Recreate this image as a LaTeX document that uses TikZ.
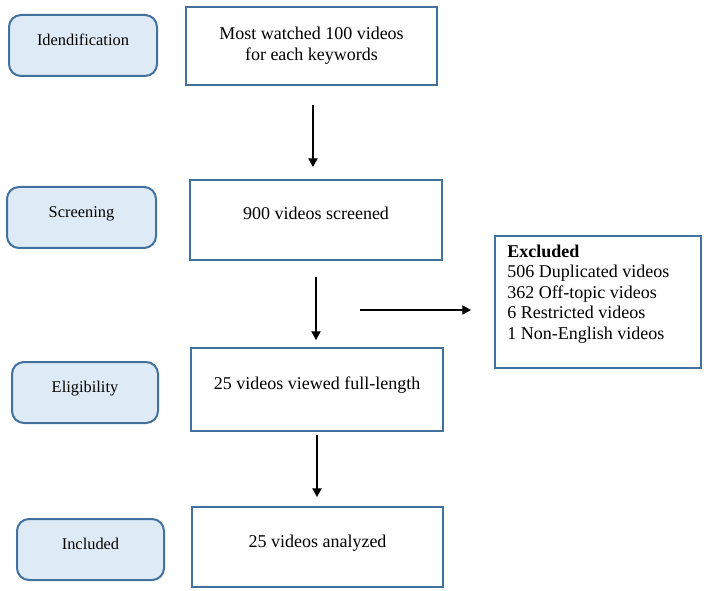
\documentclass[tikz,border=0pt]{standalone}
\usepackage{fontspec}
\setmainfont{Liberation Serif}
\usetikzlibrary{arrows.meta}
\definecolor{frameblue}{HTML}{41719C}
\definecolor{labelfill}{HTML}{DEEBF7}
\begin{document}
\begin{tikzpicture}[x=0.75pt,y=-0.75pt,
  stage/.style={draw=frameblue, line width=1.5pt, fill=labelfill, rounded corners=9pt,
    text height=0pt, text depth=0pt, minimum height=45.75pt, inner sep=0pt,
    font=\fontsize{12.3pt}{14pt}\selectfont},
  stepbox/.style={draw=frameblue, line width=1.5pt, fill=white, inner sep=0pt,
    font=\fontsize{13.5pt}{15.5pt}\selectfont},
  oneline/.style={text height=0pt, text depth=0pt},
  flow/.style={draw=black, line width=0.8pt, -{Triangle[length=6.5pt,width=7pt]}}]

% canvas
\path[fill=white] (0,0) rectangle (709,591);
\useasboundingbox (0,0) rectangle (709,591);

% stage labels on the left
\node[stage, minimum width=111pt]    (sIdent) at (83,45.5)    {Idendification};
\node[stage, minimum width=111.75pt] (sScreen) at (81.5,217.5) {Screening};
\node[stage, minimum width=109.5pt]  (sElig) at (85,392.5)     {Eligibility};
\node[stage, minimum width=110.25pt] (sIncl) at (90.5,549.5)   {Included};

% flow boxes
\node[stepbox, align=center, minimum width=188.25pt, minimum height=58.5pt] (b1) at (311.5,46)
  {Most watched 100 videos\\for each keywords};
\node[stepbox, oneline, minimum width=189pt, minimum height=60pt] (b2) at (316,220)
  {900 videos screened};
\node[stepbox, oneline, minimum width=189pt, minimum height=61.9pt] (b3) at (317,389.75)
  {25 videos viewed full-length};
\node[stepbox, oneline, minimum width=188.25pt, minimum height=60pt] (b4) at (317.5,547)
  {25 videos analyzed};

% exclusion box
\node[stepbox, minimum width=154.5pt, minimum height=99pt] (ex) at (598,302) {};
\node[anchor=north west, inner sep=0pt, align=left,
  font=\fontsize{13.5pt}{15.4pt}\selectfont] (extext) at (507,244.5)
  {\textbf{Excluded}\\506 Duplicated videos\\362 Off-topic videos\\6 Restricted videos\\1 Non-English videos};

% arrows
\draw[flow, shorten <=14.25pt, shorten >=9pt] ([xshift=1.1pt]b1.south) -- ([xshift=1.1pt]b1.south |- b2.north);
\draw[flow, shorten <=12pt, shorten >=5.6pt] (b2.south) -- (b2.south |- b3.north);
\draw[flow, shorten <=2.25pt, shorten >=6.75pt] (b3.south) -- (b3.south |- b4.north);
\coordinate (exfrom) at (360,310);
\draw[flow, shorten >=17.25pt] (exfrom) -- (exfrom -| ex.west);
\end{tikzpicture}
\end{document}
